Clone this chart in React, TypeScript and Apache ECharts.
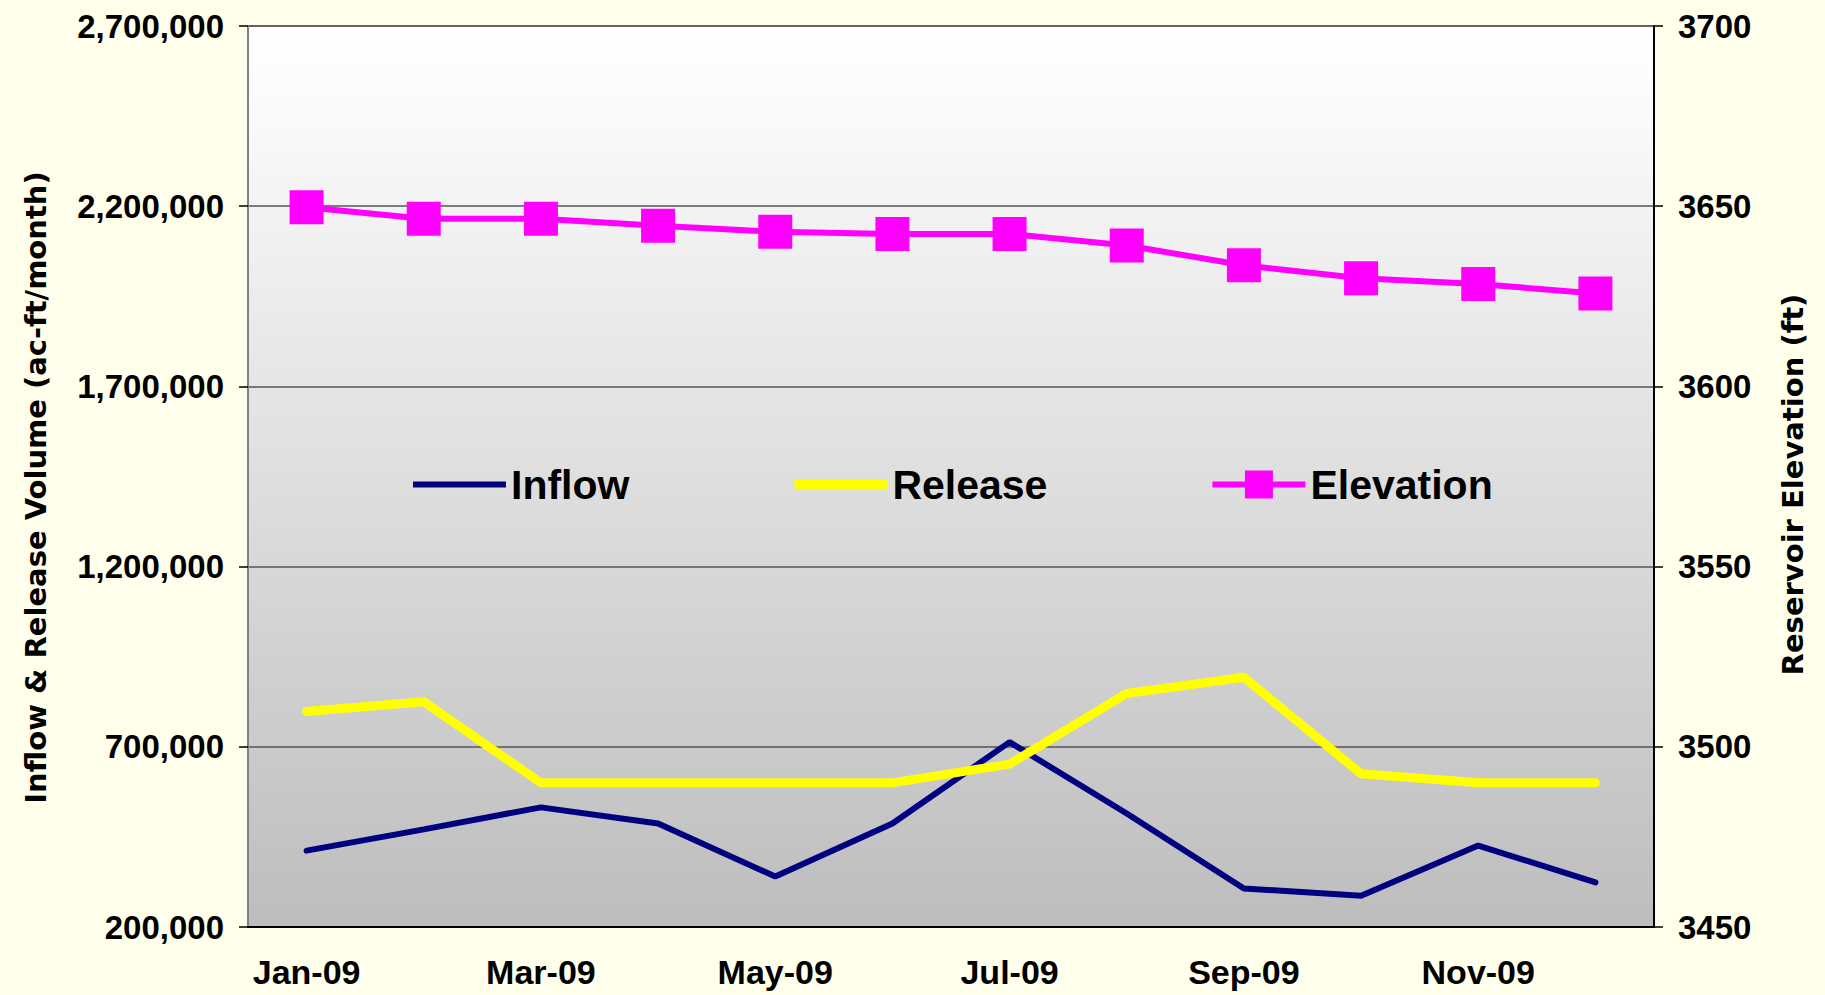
import React, { useEffect, useRef } from "react";
import * as echarts from "echarts";

const months = ["Jan-09", "Feb-09", "Mar-09", "Apr-09", "May-09", "Jun-09", "Jul-09", "Aug-09", "Sep-09", "Oct-09", "Nov-09", "Dec-09"];
const inflow = [412000, 471000, 532000, 487000, 340000, 487000, 713000, 515000, 307000, 287000, 426000, 324000];
const release = [798000, 825000, 600000, 600000, 600000, 600000, 652000, 848000, 893000, 625000, 600000, 600000];
const elevation = [3649.7, 3646.5, 3646.5, 3644.6, 3642.9, 3642.3, 3642.3, 3639.1, 3633.6, 3630.0, 3628.4, 3625.8];

const leftTitle = "Inflow & Release Volume (ac-ft/month)";
const rightTitle = "Reservoir Elevation (ft)";

const iconInflow = "path://M0,0L93,0L93,6L0,6Z";
const iconRelease = "path://M0,0L93,0L93,9L0,9Z";
const iconElevation = "path://M0,11L32.5,11L32.5,0L60.5,0L60.5,11L93,11L93,17L60.5,17L60.5,28L32.5,28L32.5,17L0,17Z";

export default function App() {
  const ref = useRef<HTMLDivElement>(null);
  useEffect(() => {
    if (!ref.current) return;
    const chart = echarts.init(ref.current, null, { renderer: "svg" });
    const labelFont = { fontFamily: "Liberation Sans, Arial, sans-serif", fontWeight: "bold" as const, fontSize: 33, color: "#000" };
    const titleFont = { fontFamily: "DejaVu Sans, Verdana, sans-serif", fontWeight: "bold" as const, fontSize: 29, color: "#000" };
    chart.setOption({
      animation: false,
      backgroundColor: "#FFFFEC",
      grid: {
        left: 248,
        right: 171,
        top: 26,
        bottom: 68,
        show: true,
        borderWidth: 2,
        borderColor: "#8a8a8a",
        backgroundColor: {
          type: "linear", x: 0, y: 0, x2: 0, y2: 1,
          colorStops: [
            { offset: 0, color: "#FFFFFF" },
            { offset: 0.08, color: "#FBFBFB" },
            { offset: 1, color: "#BDBDBD" },
          ],
        },
      },
      legend: {
        left: 408,
        top: 459,
        itemWidth: 93,
        itemHeight: 30,
        itemGap: 165,
        textStyle: { fontFamily: "Liberation Sans, Arial, sans-serif", fontWeight: "bold", fontSize: 41, color: "#000" },
        data: [
          { name: "Inflow", icon: iconInflow },
          { name: "Release", icon: iconRelease },
          { name: "Elevation", icon: iconElevation },
        ],
      },
      xAxis: {
        type: "category",
        data: months,
        boundaryGap: true,
        axisLine: { lineStyle: { color: "#000", width: 2 } },
        axisTick: { interval: 1, length: 9, lineStyle: { color: "#000", width: 1.5 } },
        axisLabel: { ...labelFont, fontSize: 34, interval: 1, margin: 28 },
      },
      yAxis: [
        {
          type: "value",
          min: 200000,
          max: 2700000,
          interval: 500000,
          name: leftTitle,
          nameLocation: "middle",
          nameGap: 198,
          nameRotate: 90,
          nameTextStyle: { ...titleFont, padding: [0, 22, 0, 0] },
          axisLine: { show: true, lineStyle: { color: "#808080", width: 2 } },
          axisTick: { show: true, length: 9, lineStyle: { color: "#000", width: 1.5 } },
          axisLabel: { ...labelFont, margin: 24, formatter: (v: number) => v.toLocaleString("en-US") },
          splitLine: { show: true, lineStyle: { color: "#555", width: 1.5 } },
        },
        {
          type: "value",
          min: 3450,
          max: 3700,
          interval: 50,
          position: "right",
          name: rightTitle,
          nameLocation: "middle",
          nameGap: 124,
          nameRotate: 90,
          nameTextStyle: { ...titleFont, padding: [0, 16, 0, 0] },
          axisLine: { show: true, lineStyle: { color: "#000", width: 2 } },
          axisTick: { show: true, length: 9, lineStyle: { color: "#000", width: 1.5 } },
          axisLabel: { ...labelFont, margin: 24, formatter: (v: number) => String(v) },
          splitLine: { show: false },
        },
      ],
      series: [
        {
          name: "Inflow",
          type: "line",
          data: inflow,
          yAxisIndex: 0,
          symbol: "none",
          itemStyle: { color: "#000080" },
          lineStyle: { color: "#000080", width: 6, cap: "round" },
        },
        {
          name: "Release",
          type: "line",
          data: release,
          yAxisIndex: 0,
          symbol: "none",
          itemStyle: { color: "#FFFF00" },
          lineStyle: { color: "#FFFF00", width: 9, cap: "round" },
        },
        {
          name: "Elevation",
          type: "line",
          data: elevation,
          yAxisIndex: 1,
          symbol: "rect",
          symbolSize: 34,
          itemStyle: { color: "#FF00FF", borderWidth: 0 },
          lineStyle: { color: "#FF00FF", width: 6 },
        },
      ],
    });
    return () => chart.dispose();
  }, []);
  return <div ref={ref} style={{ position: "fixed", left: 0, top: 0, width: 1825, height: 995 }} />;
}
